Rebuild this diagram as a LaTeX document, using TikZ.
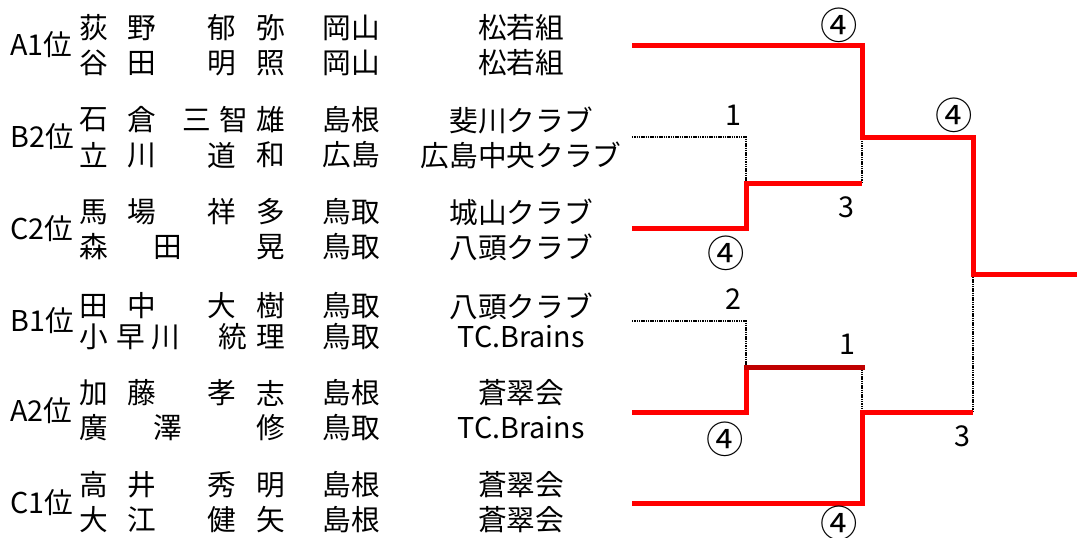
\documentclass[tikz,border=0pt]{standalone}
\usepackage{fontspec}
\setmainfont{Noto Sans CJK JP}
\definecolor{semired}{HTML}{C00000}
\tikzset{
  win/.style={color=red,line width=3.75pt},
  semiwin/.style={color=semired,line width=3.75pt,line cap=rect},
  lose/.style={color=black,line width=2pt,dash pattern=on 1.1pt off 0.6pt},
  score/.style={inner sep=0pt},
  games/.style={inner sep=0pt,font=\fontsize{28}{30}\selectfont}
}
\begin{document}
\begin{tikzpicture}[x=0.75pt,y=-0.75pt]\fontsize{21.5}{26}\selectfont
\useasboundingbox (0,0) rectangle (1077,537);
\coordinate (tA1) at (632,45);
\coordinate (tB2) at (632,137);
\coordinate (tC2) at (632,228);
\coordinate (tB1) at (632,321);
\coordinate (tA2) at (632,412);
\coordinate (tC1) at (632,503);
\coordinate (p1) at (746,183);
\coordinate (p2) at (746,367);
\coordinate (q1) at (862,137);
\coordinate (q2) at (862,412);
\coordinate (fin) at (973,274);
\coordinate (champ) at (1077,274);
\foreach \y/\s in {45/A1,137/B2,229/C2,321/B1,411/A2,503/C1}
  \node[anchor=west,inner sep=0pt] (seed\s) at (10,\y) {\s 位};
\foreach \x/\c [count=\i] in {94/荻,142/野,222/郁,271/弥} \node[score] (nA\i) at (\x,28) {\c};
\foreach \x/\c [count=\i] in {94/谷,142/田,222/明,271/照} \node[score] (nB\i) at (\x,63) {\c};
\foreach \x/\c [count=\i] in {94/石,142/倉,197/三,234/智,271/雄} \node[score] (nC\i) at (\x,120) {\c};
\foreach \x/\c [count=\i] in {94/立,142/川,222/道,271/和} \node[score] (nD\i) at (\x,155) {\c};
\foreach \x/\c [count=\i] in {94/馬,142/場,222/祥,271/多} \node[score] (nE\i) at (\x,212) {\c};
\foreach \x/\c [count=\i] in {94/森,168/田,271/晃} \node[score] (nF\i) at (\x,247) {\c};
\foreach \x/\c [count=\i] in {94/田,142/中,222/大,271/樹} \node[score] (nG\i) at (\x,306) {\c};
\foreach \x/\c [count=\i] in {94/小,131/早,166/川,233/統,271/理} \node[score] (nH\i) at (\x,337) {\c};
\foreach \x/\c [count=\i] in {94/加,142/藤,222/孝,271/志} \node[score] (nI\i) at (\x,393) {\c};
\foreach \x/\c [count=\i] in {94/廣,168/澤,271/修} \node[score] (nJ\i) at (\x,428) {\c};
\foreach \x/\c [count=\i] in {94/高,142/井,222/秀,271/明} \node[score] (nK\i) at (\x,485) {\c};
\foreach \x/\c [count=\i] in {94/大,142/江,222/健,271/矢} \node[score] (nL\i) at (\x,520) {\c};
\foreach \y/\p/\k [count=\i] in {28/岡山/松若組,63/岡山/松若組,120/島根/斐川クラブ,155/広島/広島中央クラブ,
  212/鳥取/城山クラブ,247/鳥取/八頭クラブ,306/鳥取/八頭クラブ,337/鳥取/TC.Brains,
  393/島根/蒼翠会,428/鳥取/TC.Brains,485/島根/蒼翠会,520/島根/蒼翠会}
  {\node[score] (pref\i) at (351,\y) {\p}; \node[score] (club\i) at (521,\y) {\k};}
\draw[lose] (tB2) -| (p1);
\draw[lose] (p1 -| q1) -- (q1);
\draw[lose] (tB1) -| (p2);
\draw[lose] (p2 -| q2) -- (q2);
\draw[lose] (q2 -| fin) -- (fin);
\draw[win] (tC2) -| (p1) -- (p1 -| q1);
\draw[win] (tA1) -| (q1) -- (q1 -| fin) -- (fin) -- (champ);
\draw[win] (tA2) -| (p2);
\draw[semiwin] (p2) -- (p2 -| q2);
\draw[win] (tC1) -| (q2) -- (q2 -| fin);
\node[score] (s1) at (733,115) {1};
\node[games] (s2) at (726,253) {④};
\node[score] (s3) at (846,207) {3};
\node[games] (s4) at (839,25) {④};
\node[games] (s5) at (954,115) {④};
\node[score] (s6) at (733,299) {2};
\node[score] (s7) at (847,344) {1};
\node[games] (s8) at (725,439) {④};
\node[games] (s9) at (839,523) {④};
\node[score] (s10) at (962,436) {3};
\end{tikzpicture}
\end{document}
